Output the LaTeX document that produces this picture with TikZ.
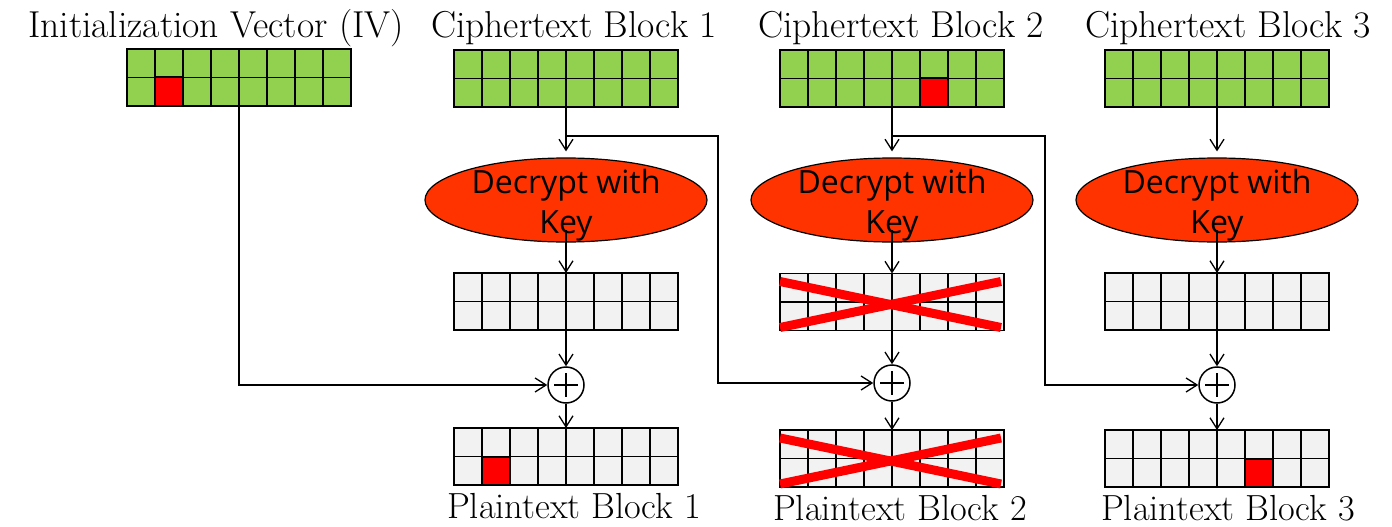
\documentclass[tikz,border=0pt]{standalone}
\usepackage{fontspec}
\newfontfamily\decfont{Open Sans}
\usetikzlibrary{arrows.meta,calc,shapes.geometric}
\definecolor{cgreen}{HTML}{92D050}
\definecolor{cgray}{HTML}{F2F2F2}
\definecolor{cenc}{HTML}{FF3300}
\definecolor{cred}{HTML}{FF0000}
\tikzset{
  blockframe/.style={draw=black, line width=1.6pt, rectangle, minimum width=224pt, minimum height=57pt, inner sep=0pt, outer sep=0pt},
  gridline/.style={draw=black, line width=1.4pt},
  redcell/.style={fill=cred, draw=black, line width=2pt},
  decbox/.style={ellipse, draw=black, line width=1.2pt, fill=cenc, minimum width=282pt, minimum height=84pt, inner sep=0pt},
  dectext/.style={font=\decfont\fontsize{32}{36}\selectfont, anchor=base, inner sep=0pt},
  title/.style={font=\fontsize{37.5}{42}\selectfont, anchor=base, inner sep=0pt},
  ptitle/.style={font=\fontsize{36.3}{42}\selectfont, anchor=base, inner sep=0pt},
  xorop/.style={circle, draw=black, line width=1.5pt, minimum size=36pt, inner sep=0pt, fill=white,
    path picture={\draw[line width=1.5pt] ($(path picture bounding box.center)+(0,-12)$) -- ($(path picture bounding box.center)+(0,12)$);
                  \draw[line width=1.5pt] ($(path picture bounding box.center)+(-12,0)$) -- ($(path picture bounding box.center)+(12,0)$);}},
  conn/.style={draw=black, line width=1.3pt},
  arr/.style={conn, -{Straight Barb[length=11pt,width=14pt,line width=1.3pt]}},
  cross/.style={draw=cred, line width=9pt}
}
\newcommand\cellblock[4]{%
  \node[blockframe, fill=#4] (#1) at (#2,#3) {};
  \foreach \k in {1,...,7}{\draw[gridline] ($(#1.north west)+(\k*28,0)$) -- ($(#1.south west)+(\k*28,0)$);}
  \draw[gridline] (#1.west) -- (#1.east);
}
\newcommand\redmark[2]{%
  \draw[redcell] ($(#1.west)+(#2*28,0)$) rectangle ($(#1.south west)+(#2*28+28,0)$);
}
\begin{document}
\begin{tikzpicture}[x=1pt,y=-1pt]
\useasboundingbox (0,0) rectangle (1392,527);
\fill[white] (0,0) rectangle (1392,527);

% titles
\node[title] (tiv) at (216,38) {Initialization Vector (IV)};
\node[title] (tc1) at (574,38) {Ciphertext Block 1};
\node[title] (tc2) at (901,38) {Ciphertext Block 2};
\node[title] (tc3) at (1228,38) {Ciphertext Block 3};
\node[ptitle] (tp1) at (574,518) {Plaintext Block 1};
\node[ptitle] (tp2) at (900,520) {Plaintext Block 2};
\node[ptitle] (tp3) at (1228,520) {Plaintext Block 3};

% top blocks
\cellblock{iv}{239}{77.5}{cgreen}
\redmark{iv}{1}
\cellblock{c1}{566}{78.5}{cgreen}
\cellblock{c2}{892}{78.5}{cgreen}
\redmark{c2}{5}
\cellblock{c3}{1217}{78.5}{cgreen}

% decrypt ellipses
\node[decbox] (e1) at (566,200) {};
\node[decbox] (e2) at (892,200) {};
\node[decbox] (e3) at (1217,200) {};
\foreach \e in {e1,e2,e3}{
  \node[dectext] (\e a) at ($(\e.center)+(0,-7)$) {Decrypt with};
  \node[dectext] (\e b) at ($(\e.center)+(0,33)$) {Key};
}

% intermediate blocks
\cellblock{g1}{566}{301.5}{cgray}
\cellblock{g2}{892}{302}{cgray}
\cellblock{g3}{1217}{301.5}{cgray}

% plaintext blocks
\cellblock{p1}{566}{456.5}{cgray}
\redmark{p1}{1}
\cellblock{p2}{892}{458.5}{cgray}
\cellblock{p3}{1217}{458.5}{cgray}
\redmark{p3}{5}

% crosses
\draw[cross] ($(g2.north west)+(0,8)$) -- ($(g2.south east)+(-3,-3)$);
\draw[cross] ($(g2.south west)+(0,-3)$) -- ($(g2.north east)+(-3,8)$);
\draw[cross] ($(p2.north west)+(0,8)$) -- ($(p2.south east)+(-3,-3)$);
\draw[cross] ($(p2.south west)+(0,-3)$) -- ($(p2.north east)+(-3,8)$);

% xor
\node[xorop] (x1) at (566,385) {};
\node[xorop] (x2) at (892,383) {};
\node[xorop] (x3) at (1217,385) {};

% branch points
\coordinate (b1) at (566,136);
\coordinate (k1) at (718,136);
\coordinate (b2) at (892,136);
\coordinate (k2) at (1045,136);

% connectors
\draw[arr, shorten >=6pt] (c1.south) -- (e1.north);
\draw[arr, shorten >=6pt] (c2.south) -- (e2.north);
\draw[arr, shorten >=6pt] (c3.south) -- (e3.north);
\draw[arr] ($(e1.center)+(0,30)$) -- (g1.north);
\draw[arr] ($(e2.center)+(0,30)$) -- (g2.north);
\draw[arr] ($(e3.center)+(0,30)$) -- (g3.north);
\draw[arr] (g1.south) -- (x1.north);
\draw[arr] (g2.south) -- (x2.north);
\draw[arr] (g3.south) -- (x3.north);
\draw[arr] (x1.south) -- (p1.north);
\draw[arr] (x2.south) -- (p2.north);
\draw[arr] (x3.south) -- (p3.north);
\draw[arr] (iv.south) |- (x1.west);
\draw[arr] (b1) -- (k1) |- (x2.west);
\draw[arr] (b2) -- (k2) |- (x3.west);
\end{tikzpicture}
\end{document}
